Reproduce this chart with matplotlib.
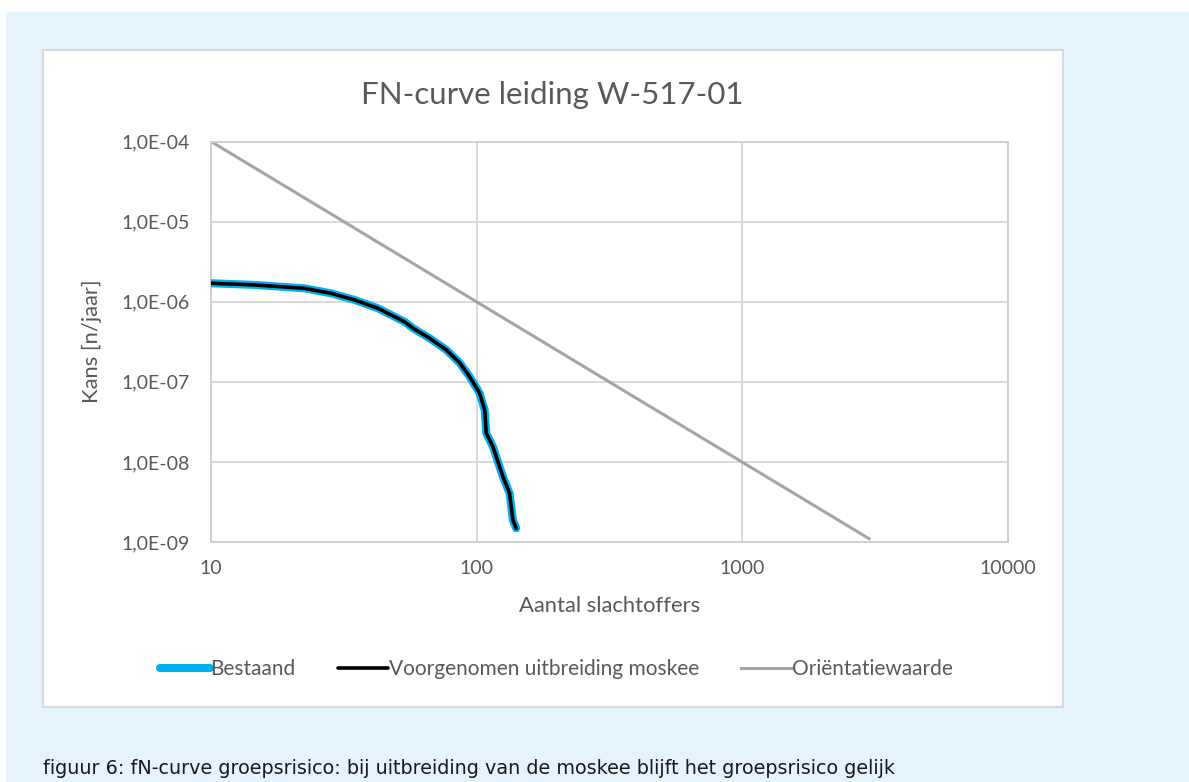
import matplotlib
matplotlib.use('Agg')
from matplotlib import pyplot as plt
from matplotlib.patches import Rectangle

plt.rcParams['font.family'] = ['Lato', 'DejaVu Sans']

# FN-curve (aflezen uit de figuur)
n_curve = [10, 14.6, 22.5, 28.4, 34.8, 42.4, 53.6, 57.6, 66.6, 76.9, 86.3, 94.1,
           102.6, 107.2, 108.7, 115.1, 125.6, 133, 136.9, 140.9]
f_bestaand = [1.70e-6, 1.62e-6, 1.47e-6, 1.27e-6, 1.05e-6, 8.3e-7, 5.6e-7, 4.66e-7,
              3.49e-7, 2.5e-7, 1.72e-7, 1.16e-7, 7.2e-8, 4.45e-8, 2.28e-8, 1.55e-8,
              6.5e-9, 4.06e-9, 1.88e-9, 1.48e-9]
f_voorgenomen = list(f_bestaand)
n_orient = [10, 3000]
f_orient = [1e-4, 1.1e-9]

x_ticks = [10, 100, 1000, 10000]
y_ticks = [1e-4, 1e-5, 1e-6, 1e-7, 1e-8, 1e-9]
y_labels = ['1,0E-04', '1,0E-05', '1,0E-06', '1,0E-07', '1,0E-08', '1,0E-09']

W, H = 1189, 782
fig = plt.figure(figsize=(W / 100, H / 100), dpi=100)
fig.patch.set_facecolor('white')

# achtergrond en kader (pixels -> figuurcoordinaten)
def box(x0, y0, x1, y1, **kw):
    fig.add_artist(Rectangle((x0 / W, 1 - y1 / H), (x1 - x0) / W, (y1 - y0) / H,
                             transform=fig.transFigure, **kw))

box(6, 12, W, H, facecolor='#E5F3FD', edgecolor='none', zorder=0)
box(43, 50, 1063, 707, facecolor='white', edgecolor='#D9D9D9', linewidth=1.5, zorder=0)

ax = fig.add_axes([211 / W, 1 - 542 / H, (1008 - 211) / W, (542 - 141.5) / H])
ax.set_facecolor('none')
ax.set_xscale('log')
ax.set_yscale('log')
ax.set_xlim(10, 10000)
ax.set_ylim(1e-9, 1e-4)

l1, = ax.plot(n_curve, f_bestaand, color='#00B0F0', linewidth=5.8,
              solid_capstyle='round', label='Bestaand', zorder=3)
l2, = ax.plot(n_curve, f_voorgenomen, color='black', linewidth=2.6,
              solid_capstyle='round', label='Voorgenomen uitbreiding moskee', zorder=4)
l3, = ax.plot(n_orient, f_orient, color='#A5A5A5', linewidth=2.2,
              label='Oriëntatiewaarde', zorder=2)

ax.set_xticks(x_ticks)
ax.set_xticklabels([str(v) for v in x_ticks])
ax.set_yticks(y_ticks)
ax.set_yticklabels(y_labels)
ax.minorticks_off()
ax.tick_params(axis='both', length=0, labelsize=14, labelcolor='#595959')
ax.tick_params(axis='x', pad=13)
ax.tick_params(axis='y', pad=15)
ax.grid(True, color='#D9D9D9', linewidth=1.4)
for s in ax.spines.values():
    s.set_color('#D0D0D0')
    s.set_linewidth(1.4)

fig.text(552 / W, 1 - 95 / H, 'FN-curve leiding W-517-01', ha='center', va='center',
         fontsize=22.5, color='#595959')
fig.text(610 / W, 1 - 606 / H, 'Aantal slachtoffers', ha='center', va='center',
         fontsize=15.8, color='#595959')
fig.text(92 / W, 1 - 341 / H, 'Kans [n/jaar]', ha='center', va='center',
         rotation=90, fontsize=15.8, color='#595959')

leg = fig.legend(handles=[l1, l2, l3], loc='center', ncol=3,
                 bbox_to_anchor=(556 / W, 1 - 669 / H), frameon=False,
                 fontsize=15, handlelength=2.4, handletextpad=0.05,
                 columnspacing=2.0)
for t in leg.get_texts():
    t.set_color('#595959')

fig.text(43 / W, 1 - 768 / H,
         'figuur 6: fN-curve groepsrisico: bij uitbreiding van de moskee blijft het groepsrisico gelijk',
         ha='left', va='center', fontsize=13.8, color='#1A1A1A', family='DejaVu Sans')

plt.savefig('out.png', dpi=100)
